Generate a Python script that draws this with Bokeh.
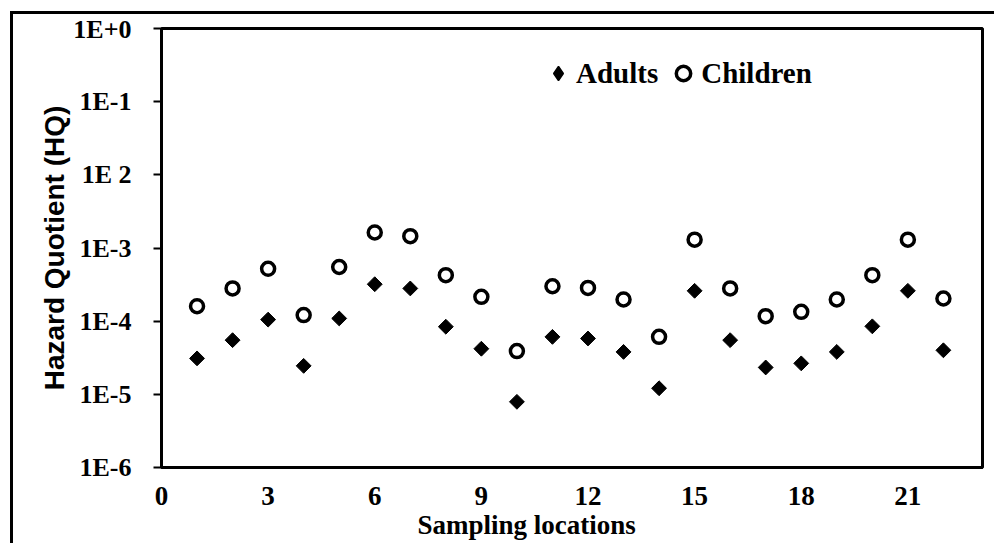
from bokeh.plotting import figure
from bokeh.models import FixedTicker, Legend, LegendItem, Title
from bokeh.embed import file_html
from bokeh.resources import INLINE
import math

# ---- data ----
locations = list(range(1, 23))
adults = [3.10e-5, 5.5e-5, 1.05e-4, 2.45e-5, 1.09e-4, 3.2e-4, 2.8e-4, 8.4e-5, 4.2e-5, 7.9e-6,
          6.1e-5, 5.8e-5, 3.8e-5, 1.21e-5, 2.6e-4, 5.5e-5, 2.33e-5, 2.65e-5, 3.8e-5, 8.5e-5,
          2.6e-4, 4.0e-5]
children = [1.60e-4, 2.8e-4, 5.2e-4, 1.21e-4, 5.5e-4, 1.63e-3, 1.45e-3, 4.25e-4, 2.15e-4, 3.9e-5,
            3.0e-4, 2.85e-4, 1.98e-4, 6.1e-5, 1.30e-3, 2.8e-4, 1.17e-4, 1.34e-4, 1.98e-4, 4.25e-4,
            1.30e-3, 2.04e-4]
x_ticks = [0, 3, 6, 9, 12, 15, 18, 21]
y_ticks = [1e0, 1e-1, 1e-2, 1e-3, 1e-4, 1e-5, 1e-6]
y_tick_labels = ["1E+0", "1E-1", "1E 2", "1E-3", "1E-4", "1E-5", "1E-6"]

SERIF = "Liberation Serif"
SANS = "Liberation Sans"

p = figure(width=984, height=532, x_range=(0, 23.1), y_range=(1e-6, 1),
           y_axis_type="log", output_backend="svg", toolbar_location=None,
           min_border_left=148, min_border_top=14, min_border_right=15, min_border_bottom=79)
p.styles = {"border-top": "3px solid black", "border-left": "3px solid black",
            "margin-top": "11px", "margin-left": "10px"}

p.grid.visible = False
p.outline_line_color = "black"
p.outline_line_width = 3
p.background_fill_color = "white"
p.border_fill_color = "white"

# x axis
xa = p.xaxis[0]
xa.ticker = FixedTicker(ticks=x_ticks)
xa.major_tick_in = 0
xa.major_tick_out = 0
xa.minor_tick_in = 0
xa.minor_tick_out = 0
xa.axis_line_width = 3
xa.major_label_text_font = SERIF
xa.major_label_text_font_style = "bold"
xa.major_label_text_font_size = "27px"
xa.major_label_text_color = "black"
xa.major_label_standoff = 19

# y axis
ya = p.yaxis[0]
ya.ticker = FixedTicker(ticks=y_ticks, minor_ticks=[])
ya.major_label_overrides = {t: lab for t, lab in zip(y_ticks, y_tick_labels)}
ya.major_tick_in = 0
ya.major_tick_out = 8
ya.major_tick_line_width = 2
ya.minor_tick_in = 0
ya.minor_tick_out = 0
ya.axis_line_width = 3
ya.major_label_text_font = SERIF
ya.major_label_text_font_style = "bold"
ya.major_label_text_font_size = "26px"
ya.major_label_text_color = "black"
ya.major_label_standoff = 22
ya.axis_label = "Hazard Quotient (HQ)"
ya.axis_label_text_font = SANS
ya.axis_label_text_font_style = "bold"
ya.axis_label_text_font_size = "28px"
ya.axis_label_text_color = "black"
ya.axis_label_standoff = 0

p.add_layout(Title(text="Sampling locations", align="left", offset=256,
                   text_font=SERIF, text_font_style="bold", text_font_size="27px",
                   text_color="black", standoff=0), "below")

r_ad = p.scatter(locations, adults, marker="square", size=10.5, angle=math.pi / 4,
                 fill_color="black", line_color="black", line_width=1)
r_ch = p.scatter(locations, children, marker="circle", size=13, fill_color="white",
                 line_color="black", line_width=3.5)

# legend proxy for the diamond symbol (legend glyphs ignore marker angle)
r_ad_key = p.scatter(x=[float("nan")], y=[float("nan")], marker="diamond",
                     fill_color="black", line_color="black", line_width=1.5)

legend = Legend(items=[LegendItem(label="Adults", renderers=[r_ad_key]),
                       LegendItem(label="Children", renderers=[r_ch])],
                location=(379, 376), orientation="horizontal",
                glyph_width=36, glyph_height=36, label_standoff=0, spacing=7,
                padding=0, margin=0,
                border_line_color=None, background_fill_alpha=0,
                label_text_font=SERIF, label_text_font_style="bold",
                label_text_font_size="29px", label_text_color="black")
p.add_layout(legend)

open("out.html", "w").write(file_html(p, INLINE))
